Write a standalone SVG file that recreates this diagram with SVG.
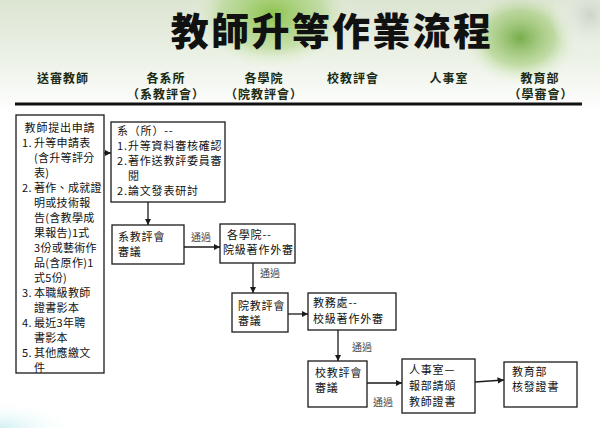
<svg xmlns="http://www.w3.org/2000/svg" width="600" height="428" viewBox="0 0 600 428">
<defs>
<style>
.box{fill:#ffffff;stroke:#1a1a1a;stroke-width:1.3}
.t{font-family:"Noto Sans CJK TC","Noto Sans CJK SC",sans-serif;font-size:11px;fill:#111;letter-spacing:0.8px}
.n{letter-spacing:0.3px}
.lbl{font-family:"Noto Sans CJK TC","Noto Sans CJK SC",sans-serif;font-size:10px;fill:#444}
.hd{font-family:"Noto Sans CJK TC","Noto Sans CJK SC",sans-serif;font-size:12px;font-weight:bold;fill:#1b2a12;letter-spacing:1px}
.title{font-family:"Noto Sans CJK TC","Noto Sans CJK SC",sans-serif;font-size:38px;font-weight:900;fill:#111;letter-spacing:2.3px}
.c{fill:none;stroke:#1a1a1a;stroke-width:1.3}
</style>
<marker id="ah" viewBox="0 0 10 10" refX="10" refY="5" markerWidth="5" markerHeight="5" orient="auto" markerUnits="strokeWidth">
<path d="M0,0 L10,5 L0,10 z" fill="#1a1a1a"/>
</marker>
<linearGradient id="bgTop" x1="0" y1="0" x2="0" y2="1">
<stop offset="0" stop-color="#dce4d2"/>
<stop offset="0.55" stop-color="#edf2e8"/>
<stop offset="1" stop-color="#ffffff"/>
</linearGradient>
<radialGradient id="leaf1" cx="0.5" cy="0.5" r="0.5">
<stop offset="0" stop-color="#84bf3e" stop-opacity="0.9"/>
<stop offset="0.6" stop-color="#a6d276" stop-opacity="0.5"/>
<stop offset="1" stop-color="#ffffff" stop-opacity="0"/>
</radialGradient>
<radialGradient id="leaf2" cx="0.5" cy="0.5" r="0.5">
<stop offset="0" stop-color="#66a232" stop-opacity="0.85"/>
<stop offset="0.55" stop-color="#96c664" stop-opacity="0.5"/>
<stop offset="1" stop-color="#ffffff" stop-opacity="0"/>
</radialGradient>
<radialGradient id="gray1" cx="0.5" cy="0.5" r="0.5">
<stop offset="0" stop-color="#c8cfc4" stop-opacity="0.8"/>
<stop offset="1" stop-color="#ffffff" stop-opacity="0"/>
</radialGradient>
<radialGradient id="cyan1" cx="0" cy="1" r="1">
<stop offset="0" stop-color="#bfe9ef" stop-opacity="0.7"/>
<stop offset="1" stop-color="#ffffff" stop-opacity="0"/>
</radialGradient>
</defs>

<rect x="0" y="0" width="600" height="428" fill="#ffffff"/>
<rect x="0" y="0" width="600" height="112" fill="url(#bgTop)"/>
<ellipse cx="272" cy="14" rx="85" ry="58" fill="url(#leaf1)"/>
<ellipse cx="520" cy="38" rx="62" ry="50" fill="url(#leaf2)"/>
<ellipse cx="590" cy="15" rx="40" ry="40" fill="url(#gray1)"/>
<rect x="0" y="400" width="80" height="28" fill="url(#cyan1)"/>

<text class="title" x="332" y="45" text-anchor="middle">教師升等作業流程</text>

<g id="headers">
<text class="hd" x="63" y="83" text-anchor="middle">送審教師</text>
<text class="hd" x="166" y="83" text-anchor="middle">各系所</text>
<text class="hd" x="166" y="99" text-anchor="middle">（系教評會）</text>
<text class="hd" x="264" y="83" text-anchor="middle">各學院</text>
<text class="hd" x="264" y="99" text-anchor="middle">（院教評會）</text>
<text class="hd" x="353" y="83" text-anchor="middle">校教評會</text>
<text class="hd" x="449" y="83" text-anchor="middle">人事室</text>
<text class="hd" x="540" y="83" text-anchor="middle">教育部</text>
<text class="hd" x="541" y="99" text-anchor="middle">（學審會）</text>
</g>
<line x1="15" y1="104" x2="582" y2="104" stroke="#111" stroke-width="2.8"/>

<g id="connectors">
<line class="c" x1="104" y1="153" x2="111" y2="153" marker-end="url(#ah)"/>
<line class="c" x1="148" y1="202" x2="148" y2="225" marker-end="url(#ah)"/>
<line class="c" x1="184" y1="247" x2="220" y2="247" marker-end="url(#ah)"/>
<line class="c" x1="253" y1="263" x2="253" y2="293" marker-end="url(#ah)"/>
<line class="c" x1="288" y1="314" x2="308" y2="314" marker-end="url(#ah)"/>
<line class="c" x1="338" y1="330" x2="338" y2="361" marker-end="url(#ah)"/>
<line class="c" x1="367" y1="383" x2="402" y2="383" marker-end="url(#ah)"/>
<line class="c" x1="475" y1="382" x2="504" y2="380" marker-end="url(#ah)"/>
<text class="lbl" x="191" y="241">通過</text>
<text class="lbl" x="260" y="277">通過</text>
<text class="lbl" x="352" y="351">通過</text>
<text class="lbl" x="373" y="406">通過</text>
</g>

<g id="n1">
<rect class="box" x="16" y="115" width="88" height="258"/>
<text class="t" x="60" y="132" text-anchor="middle">教師提出申請</text>
<text class="t n" x="22" y="147">1.</text><text class="t n" x="34" y="147">升等申請表</text>
<text class="t n" x="34" y="162">(含升等評分</text>
<text class="t n" x="34" y="177">表)</text>
<text class="t n" x="22" y="192">2.</text><text class="t n" x="34" y="192">著作、成就證</text>
<text class="t n" x="34" y="207">明或技術報</text>
<text class="t n" x="34" y="222">告(含教學成</text>
<text class="t n" x="34" y="237">果報告)1式</text>
<text class="t n" x="34" y="252">3份或藝術作</text>
<text class="t n" x="34" y="267">品(含原作)1</text>
<text class="t n" x="34" y="282">式5份)</text>
<text class="t n" x="22" y="297">3.</text><text class="t n" x="34" y="297">本職級教師</text>
<text class="t n" x="34" y="312">證書影本</text>
<text class="t n" x="22" y="327">4.</text><text class="t n" x="34" y="327">最近3年聘</text>
<text class="t n" x="34" y="342">書影本</text>
<text class="t n" x="22" y="357">5.</text><text class="t n" x="34" y="357">其他應繳文</text>
<text class="t n" x="34" y="372">件</text>
</g>

<g id="n2">
<rect class="box" x="111" y="122" width="114" height="80"/>
<text class="t" x="117" y="135">系（所）--</text>
<text class="t" x="117" y="150">1.</text><text class="t" x="128" y="150">升等資料審核確認</text>
<text class="t" x="117" y="165">2.</text><text class="t" x="128" y="165">著作送教評委員審</text>
<text class="t" x="128" y="180">閱</text>
<text class="t" x="117" y="195">2.</text><text class="t" x="128" y="195">論文發表研討</text>
</g>

<g id="n3">
<rect class="box" x="112" y="225" width="72" height="39"/>
<text class="t" x="118" y="241">系教評會</text>
<text class="t" x="118" y="256">審議</text>
</g>

<g id="n4">
<rect class="box" x="220" y="224" width="75" height="39"/>
<text class="t" x="227" y="239">各學院--</text>
<text class="t" x="223" y="254">院級著作外審</text>
</g>

<g id="n5">
<rect class="box" x="232" y="293" width="56" height="39"/>
<text class="t" x="238" y="310">院教評會</text>
<text class="t" x="238" y="325">審議</text>
</g>

<g id="n6">
<rect class="box" x="308" y="293" width="88" height="37"/>
<text class="t" x="313" y="307">教務處--</text>
<text class="t" x="313" y="323">校級著作外審</text>
</g>

<g id="n7">
<rect class="box" x="308" y="361" width="59" height="46"/>
<text class="t" x="315" y="377">校教評會</text>
<text class="t" x="315" y="392">審議</text>
</g>

<g id="n8">
<rect class="box" x="402" y="359" width="73" height="54"/>
<text class="t" x="409" y="374">人事室—</text>
<text class="t" x="409" y="390">報部請頒</text>
<text class="t" x="409" y="406">教師證書</text>
</g>

<g id="n9">
<rect class="box" x="504" y="362" width="73" height="45"/>
<text class="t" x="512" y="376">教育部</text>
<text class="t" x="512" y="391">核發證書</text>
</g>
</svg>
